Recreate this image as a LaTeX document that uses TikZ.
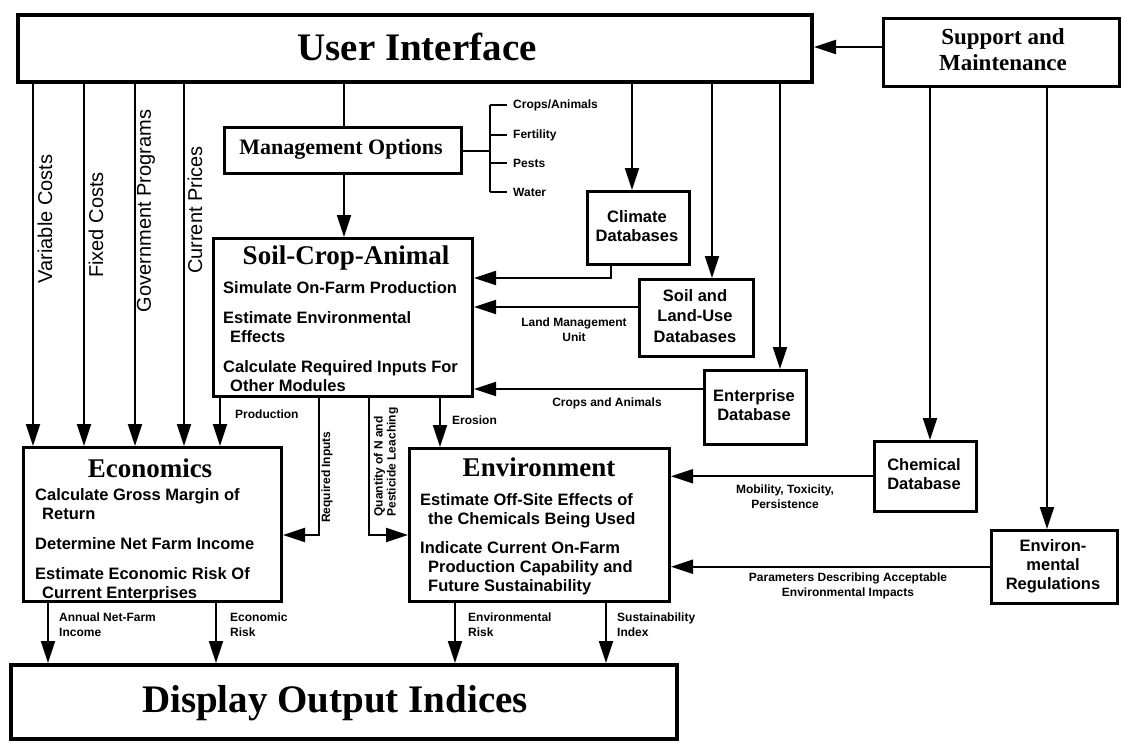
\documentclass[tikz,border=0pt]{standalone}
\usepackage{fontspec}
\setmainfont{Liberation Serif}
\setsansfont{Liberation Sans}
\usetikzlibrary{arrows.meta, positioning}
\newcommand{\bigfnt}{\fontsize{39}{44}\selectfont\rmfamily\bfseries}
\newcommand{\titlefnt}{\fontsize{27}{31}\selectfont\rmfamily\bfseries}
\newcommand{\suppfnt}{\fontsize{23}{26}\selectfont\rmfamily\bfseries}
\newcommand{\mgmtfnt}{\fontsize{22}{26}\selectfont\rmfamily\bfseries}
\newcommand{\itemfnt}{\fontsize{16.5}{19}\selectfont\sffamily\bfseries}
\newcommand{\lblfnt}{\fontsize{12}{15}\selectfont\sffamily\bfseries}
\newcommand{\sidefnt}{\fontsize{20}{24}\selectfont\sffamily}
\tikzstyle{bigbox} = [draw, line width=4pt, inner sep=0pt, anchor=north west]
\tikzstyle{modbox} = [draw, line width=3pt, inner sep=0pt, anchor=north west]
\tikzstyle{dbbox} = [draw, line width=2.5pt, inner sep=0pt, anchor=north west]
\tikzstyle{arr} = [line width=2pt, -{Triangle[length=22pt,width=14pt]}]
\tikzstyle{conn} = [line width=2pt]
\begin{document}
\begin{tikzpicture}[x=1pt, y=-1pt, every node/.style={inner sep=0pt}]
	\useasboundingbox (0,0) rectangle (1122,742);

	% top row
	\node[bigbox, minimum width=794pt, minimum height=67pt] (ui) at (16,13) {};
	\node[font=\bigfnt] (uititle) at (417,47) {User Interface};
	\node[modbox, minimum width=236pt, minimum height=68pt] (supp) at (882,17) {};
	\node[font=\suppfnt, align=center] (supptext) at (1003,50) {Support and\\Maintenance};

	% management
	\node[modbox, minimum width=237pt, minimum height=46pt] (mgmt) at (223,126) {};
	\node[font=\mgmtfnt] (mgmttext) at (341,149) {Management Options};

	% modules
	\node[modbox, minimum width=259pt, minimum height=158pt] (sca) at (212,237) {};
	\node[font=\titlefnt] (scatitle) at (346,258) {Soil-Crop-Animal};
	\node[font=\itemfnt, align=left, anchor=north west] (scalist) at (223,281) {Simulate On-Farm Production\\[11pt]Estimate Environmental\\\hspace*{7pt}Effects\\[11pt]Calculate Required Inputs For\\\hspace*{7pt}Other Modules};

	\node[modbox, minimum width=258pt, minimum height=154pt] (econ) at (22,446) {};
	\node[font=\titlefnt] (econtitle) at (150,468) {Economics};
	\node[font=\itemfnt, align=left, anchor=north west] (econlist) at (35,488) {Calculate Gross Margin of\\\hspace*{7pt}Return\\[11pt]Determine Net Farm Income\\[11pt]Estimate Economic Risk Of\\\hspace*{7pt}Current Enterprises};

	\node[modbox, minimum width=260pt, minimum height=153pt] (env) at (408,447) {};
	\node[font=\titlefnt] (envtitle) at (539,467) {Environment};
	\node[font=\itemfnt, align=left, anchor=north west] (envlist) at (420,493) {Estimate Off-Site Effects of\\\hspace*{8pt}the Chemicals Being Used\\[10pt]Indicate Current On-Farm\\\hspace*{8pt}Production Capability and\\\hspace*{8pt}Future Sustainability};

	\node[bigbox, minimum width=666pt, minimum height=74pt] (disp) at (9,663) {};
	\node[font=\bigfnt] (disptitle) at (335,703) {Display Output Indices};

	% databases
	\node[dbbox, minimum width=102pt, minimum height=73pt] (clim) at (586,190) {};
	\node[font=\itemfnt, align=center, baseline=0pt] (climtext) at (637,226) {Climate\\Databases};
	\node[dbbox, minimum width=114pt, minimum height=77pt] (soil) at (638,278) {};
	\node[font=\fontsize{16.5}{20.5}\selectfont\sffamily\bfseries, align=center] (soiltext) at (695,316) {Soil and\\Land-Use\\Databases};
	\node[dbbox, minimum width=102pt, minimum height=74pt] (entr) at (703,369) {};
	\node[font=\itemfnt, align=center] (entrtext) at (754,405) {Enterprise\\Database};
	\node[dbbox, minimum width=102pt, minimum height=70pt] (chem) at (873,440) {};
	\node[font=\itemfnt, align=center] (chemtext) at (924,474) {Chemical\\Database};
	\node[dbbox, minimum width=126pt, minimum height=73pt] (regs) at (990,529) {};
	\node[font=\itemfnt, align=center] (regstext) at (1053,566) {Environ-\\mental\\Regulations};

	% feed points
	\coordinate (suppout) at (882,47);
	\coordinate (vcost) at (33,80);
	\coordinate (fcost) at (84,80);
	\coordinate (gprog) at (135,80);
	\coordinate (cprice) at (184,80);
	\coordinate (mgtop) at (344,80);
	\coordinate (climin) at (632,80);
	\coordinate (soilin) at (712,80);
	\coordinate (entrin) at (780,80);
	\coordinate (chemin) at (930,85);
	\coordinate (regsin) at (1047,85);
	\coordinate (brtop) at (490,105);
	\coordinate (brbot) at (490,192);
	\coordinate (climdn) at (611,263);
	\coordinate (climbend) at (611,278);
	\coordinate (soilout) at (638,307);
	\coordinate (entrout) at (703,389);
	\coordinate (prodout) at (220,395);
	\coordinate (reqout) at (319,395);
	\coordinate (reqbend) at (319,535);
	\coordinate (qtyout) at (369,395);
	\coordinate (qtybend) at (369,535);
	\coordinate (erosout) at (440,395);
	\coordinate (incout) at (48,600);
	\coordinate (erisk) at (216,600);
	\coordinate (envrisk) at (455,600);
	\coordinate (sustout) at (606,600);

	% top connectors
	\draw[arr] (suppout) -- (suppout -| ui.east);
	\foreach \c in {vcost, fcost, gprog, cprice}
		\draw[arr] (\c) -- (\c |- econ.north);
	\draw[conn] (mgtop) -- (mgtop |- mgmt.north);
	\draw[arr] (mgtop |- mgmt.south) -- (mgtop |- sca.north);
	\draw[arr] (climin) -- (climin |- clim.north);
	\draw[arr] (soilin) -- (soilin |- soil.north);
	\draw[arr] (entrin) -- (entrin |- entr.north);
	\draw[arr] (chemin) -- (chemin |- chem.north);
	\draw[arr] (regsin) -- (regsin |- regs.north);

	\node[font=\sidefnt, rotate=90] (varc) at (45,219) {Variable Costs};
	\node[font=\sidefnt, rotate=90] (fixc) at (96,225) {Fixed Costs};
	\node[font=\sidefnt, rotate=90] (govp) at (146,211) {Government Programs};
	\node[font=\sidefnt, rotate=90] (curp) at (195,210) {Current Prices};

	% options bracket
	\draw[conn] (mgmt.east) -- (mgmt.east -| brtop);
	\draw[conn] (brtop) -- (brbot);
	\foreach \y/\lab/\nm in {105/{Crops/Animals}/crops, 135/Fertility/fert, 163/Pests/pests, 192/Water/water}{
		\node[font=\lblfnt, anchor=west] (\nm) at (513,\y) {\lab};
		\draw[conn] ([xshift=-23pt]\nm.west) -- ([xshift=-6pt]\nm.west);
	}

	% inputs to soil-crop-animal
	\draw[arr] (climdn) -- (climbend) -- (climbend -| sca.east);
	\draw[arr] (soilout) -- (soilout -| sca.east);
	\draw[arr] (entrout) -- (entrout -| sca.east);
	\node[font=\lblfnt, align=center] (lmu) at (574,330) {Land Management\\Unit};
	\node[font=\lblfnt] (cropan) at (607,403) {Crops and Animals};

	% soil-crop-animal outputs
	\draw[arr] (prodout) -- (prodout |- econ.north);
	\draw[arr] (reqout) -- (reqbend) -- (reqbend -| econ.east);
	\draw[arr] (qtyout) -- (qtybend) -- (qtybend -| env.west);
	\draw[arr] (erosout) -- (erosout |- env.north);
	\node[font=\lblfnt, anchor=west] (prod) at (235,414) {Production};
	\node[font=\lblfnt, anchor=west] (eros) at (452,420) {Erosion};
	\node[font=\lblfnt, rotate=90] (reqin) at (327,477) {Required Inputs};
	\node[font=\fontsize{12}{13}\selectfont\sffamily\bfseries, rotate=90, align=left] (qty) at (386,462) {Quantity of N and\\Pesticide Leaching};

	% inputs to environment
	\draw[arr] (chem.west) -- (chem.west -| env.east);
	\draw[arr] (regs.west) -- (regs.west -| env.east);
	\node[font=\lblfnt, align=center] (mobil) at (785,497) {Mobility, Toxicity,\\Persistence};
	\node[font=\lblfnt, align=center] (param) at (848,586) {Parameters Describing Acceptable\\Environmental Impacts};

	% outputs
	\draw[arr] (incout) -- (incout |- disp.north);
	\draw[arr] (erisk) -- (erisk |- disp.north);
	\draw[arr] (envrisk) -- (envrisk |- disp.north);
	\draw[arr] (sustout) -- (sustout |- disp.north);
	\node[font=\lblfnt, align=left, anchor=west] (income) at (59,625) {Annual Net-Farm\\Income};
	\node[font=\lblfnt, align=left, anchor=west] (ecorisk) at (230,625) {Economic\\Risk};
	\node[font=\lblfnt, align=left, anchor=west] (envr) at (468,625) {Environmental\\Risk};
	\node[font=\lblfnt, align=left, anchor=west] (sust) at (617,625) {Sustainability\\Index};
\end{tikzpicture}
\end{document}
